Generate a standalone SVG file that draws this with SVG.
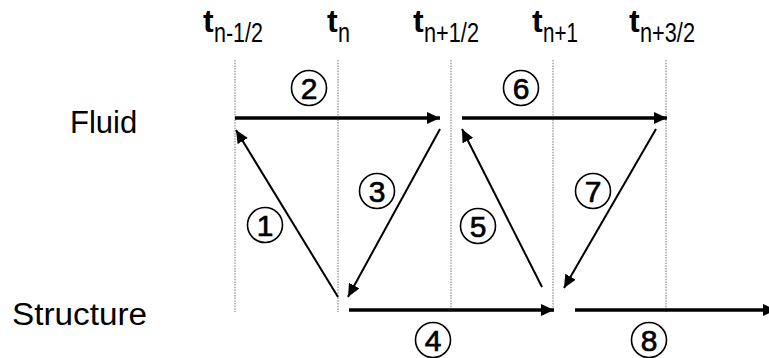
<svg xmlns="http://www.w3.org/2000/svg" width="769" height="358" viewBox="0 0 769 358">
<style>
.grid{stroke:#8a8a8a;stroke-width:1.2;stroke-dasharray:1.5 1.2;fill:none}
.thick{stroke:#000;stroke-width:3.5;fill:none}
.thin{stroke:#000;stroke-width:2;fill:none}
.lbl{font-family:"Liberation Sans",Arial,sans-serif;fill:#000}
.t{font-family:"Liberation Sans",Arial,sans-serif;font-size:32px;font-weight:bold;fill:#000}
.sub{font-family:"Liberation Sans",Arial,sans-serif;font-size:27px;fill:#000}
.num circle{fill:#fff;stroke:#000;stroke-width:1.6}
.num text{font-family:"Liberation Sans",Arial,sans-serif;font-size:30px;text-anchor:middle;fill:#000;stroke:#000;stroke-width:0.7}
</style>
<defs>
<marker id="ah" markerUnits="userSpaceOnUse" markerWidth="14" markerHeight="12" refX="13" refY="6" orient="auto">
<path d="M0,0 L13,6 L0,12 z" fill="#000"/>
</marker>
</defs>
<rect width="769" height="358" fill="#fff"/>
<g id="time-axis">
<line class="grid" x1="235" y1="60" x2="235" y2="312"/>
<line class="grid" x1="338" y1="60" x2="338" y2="312"/>
<line class="grid" x1="451" y1="60" x2="451" y2="312"/>
<line class="grid" x1="553" y1="60" x2="553" y2="312"/>
<line class="grid" x1="666" y1="60" x2="666" y2="312"/>
</g>
<g id="t-n-half"><text class="t" x="203" y="32">t</text><text class="sub" x="214" y="42" textLength="49" lengthAdjust="spacingAndGlyphs">n-1/2</text></g>
<g id="t-n"><text class="t" x="327" y="32">t</text><text class="sub" x="338" y="42" textLength="12" lengthAdjust="spacingAndGlyphs">n</text></g>
<g id="t-n1-half"><text class="t" x="413" y="32">t</text><text class="sub" x="424" y="42" textLength="55" lengthAdjust="spacingAndGlyphs">n+1/2</text></g>
<g id="t-n1"><text class="t" x="532" y="32">t</text><text class="sub" x="543" y="42" textLength="35" lengthAdjust="spacingAndGlyphs">n+1</text></g>
<g id="t-n3-half"><text class="t" x="629" y="32">t</text><text class="sub" x="640" y="42" textLength="55" lengthAdjust="spacingAndGlyphs">n+3/2</text></g>
<g id="fluid"><text class="lbl" x="70" y="133" font-size="31">Fluid</text></g>
<g id="structure"><text class="lbl" x="12" y="325" font-size="31" textLength="135" lengthAdjust="spacingAndGlyphs">Structure</text></g>
<g id="connectors">
<line class="thick" x1="235" y1="118" x2="440" y2="118" marker-end="url(#ah)"/>
<line class="thick" x1="462" y1="118" x2="667" y2="118" marker-end="url(#ah)"/>
<line class="thick" x1="349" y1="310" x2="554" y2="310" marker-end="url(#ah)"/>
<line class="thick" x1="575" y1="310" x2="776" y2="310" marker-end="url(#ah)"/>
<line class="thin" x1="338" y1="297" x2="236" y2="130" marker-end="url(#ah)"/>
<line class="thin" x1="440" y1="129" x2="348" y2="297" marker-end="url(#ah)"/>
<line class="thin" x1="542" y1="287" x2="462" y2="129" marker-end="url(#ah)"/>
<line class="thin" x1="656" y1="129" x2="564" y2="288" marker-end="url(#ah)"/>
</g>
<g id="step1" class="num"><circle cx="265" cy="225" r="17.5"/><text x="265" y="236">1</text></g>
<g id="step2" class="num"><circle cx="309" cy="88" r="17.5"/><text x="309" y="99">2</text></g>
<g id="step3" class="num"><circle cx="377" cy="191" r="17.5"/><text x="377" y="202">3</text></g>
<g id="step4" class="num"><circle cx="433" cy="340" r="17.5"/><text x="433" y="351">4</text></g>
<g id="step5" class="num"><circle cx="478" cy="226" r="17.5"/><text x="478" y="237">5</text></g>
<g id="step6" class="num"><circle cx="521" cy="88" r="17.5"/><text x="521" y="99">6</text></g>
<g id="step7" class="num"><circle cx="593" cy="191" r="17.5"/><text x="593" y="202">7</text></g>
<g id="step8" class="num"><circle cx="649" cy="340" r="17.5"/><text x="649" y="351">8</text></g>
</svg>
